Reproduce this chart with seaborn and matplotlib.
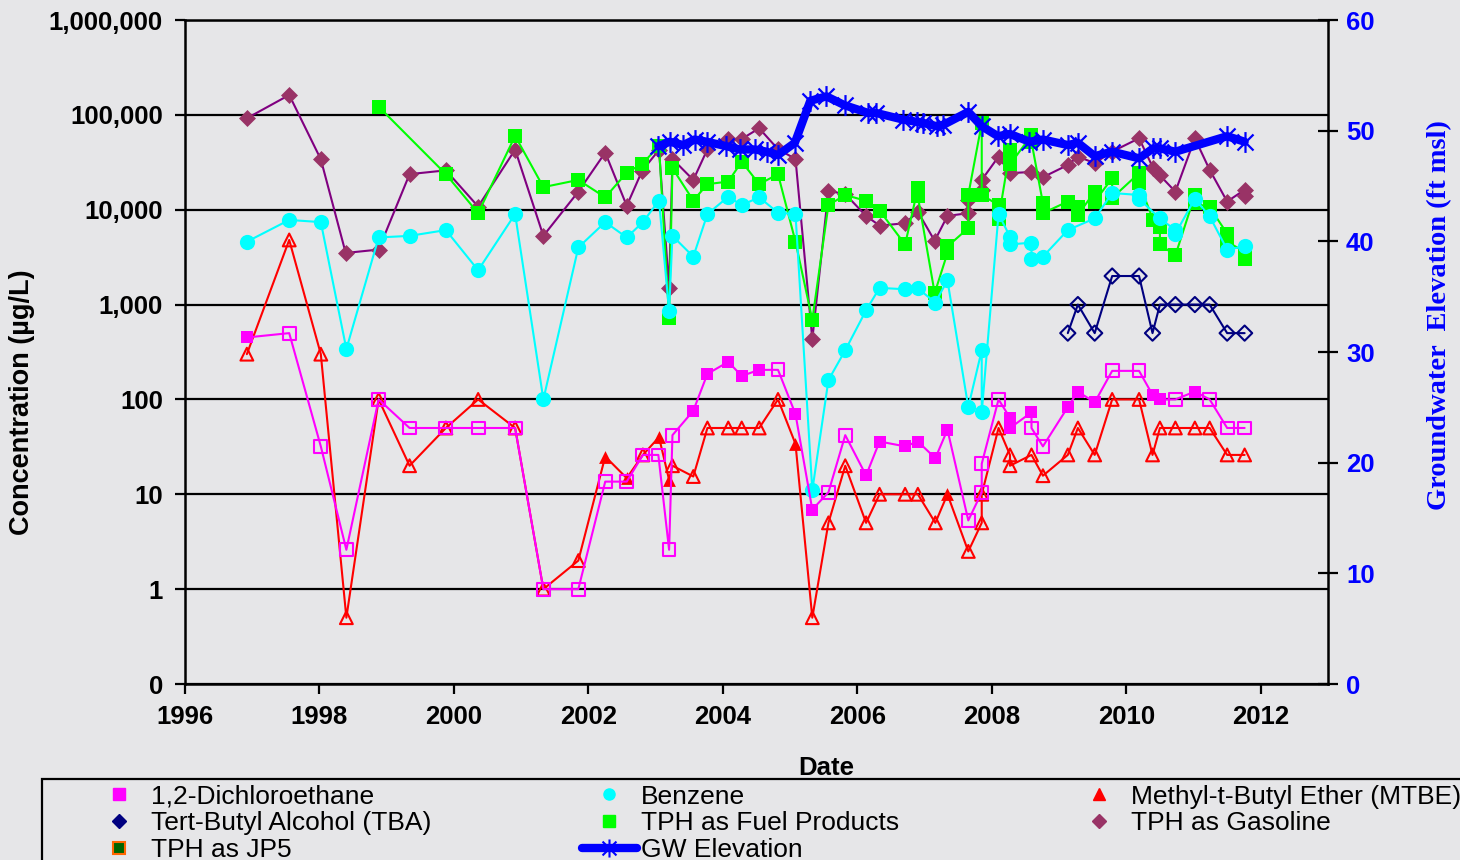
import numpy as np
import matplotlib
matplotlib.use("Agg")
import matplotlib.pyplot as plt
import seaborn as sns
from matplotlib.lines import Line2D
from matplotlib.path import Path
from matplotlib.patches import Rectangle
from matplotlib.ticker import NullLocator

# ---- data (decimal years, ug/L; det = 1 filled marker, 0 open) ----
dca_x = [1996.92, 1997.55, 1998.02, 1998.40, 1998.88, 1999.34, 1999.88, 2000.36, 2000.91, 2001.33,
         2001.85, 2002.25, 2002.57, 2002.81, 2003.04, 2003.20, 2003.25, 2003.56, 2003.77, 2004.08,
         2004.28, 2004.54, 2004.82, 2005.08, 2005.33, 2005.57, 2005.82, 2006.13, 2006.33, 2006.71,
         2006.90, 2007.16, 2007.34, 2007.65, 2007.85, 2007.85, 2008.10, 2008.27, 2008.27, 2008.59,
         2008.59, 2008.76, 2009.13, 2009.28, 2009.53, 2009.79, 2010.19, 2010.39, 2010.50, 2010.73,
         2011.02, 2011.24, 2011.50, 2011.76]
dca_y = [450, 500, 32, 2.6, 100, 50, 50, 50, 50, 1,
         1, 13.6, 13.6, 26, 26, 2.6, 42, 76, 186, 249,
         177, 205, 205, 70, 6.9, 10.5, 42, 15.8, 36, 32,
         36, 24, 48, 5.3, 10.5, 21, 100, 64, 50, 73,
         50, 32, 83, 121, 93, 200, 200, 112, 100, 100,
         121, 100, 50, 50]
dca_det = [1, 0, 0, 0, 0, 0, 0, 0, 0, 0,
           0, 0, 0, 0, 0, 0, 0, 1, 1, 1,
           1, 1, 0, 1, 1, 0, 0, 1, 1, 1,
           1, 1, 1, 0, 0, 0, 0, 1, 1, 1,
           0, 0, 1, 1, 1, 0, 0, 1, 1, 0,
           1, 0, 0, 0]

benz_x = [1996.92, 1997.55, 1998.02, 1998.40, 1998.88, 1999.34, 1999.88, 2000.36, 2000.91, 2001.33,
          2001.85, 2002.25, 2002.57, 2002.81, 2003.05, 2003.20, 2003.25, 2003.56, 2003.77, 2004.08,
          2004.28, 2004.54, 2004.82, 2005.08, 2005.33, 2005.57, 2005.82, 2006.13, 2006.33, 2006.71,
          2006.90, 2007.16, 2007.34, 2007.65, 2007.85, 2007.85, 2008.10, 2008.27, 2008.27, 2008.59,
          2008.59, 2008.76, 2009.13, 2009.53, 2009.79, 2010.19, 2010.19, 2010.50, 2010.73, 2010.73,
          2011.02, 2011.24, 2011.50, 2011.76]
benz_y = [4600, 7800, 7400, 340, 5100, 5300, 6100, 2300, 9000, 100,
          4000, 7400, 5100, 7400, 12500, 850, 5300, 3200, 9000, 13700,
          11200, 13500, 9300, 9000, 11, 160, 330, 870, 1500, 1450,
          1480, 1050, 1800, 83, 330, 73, 9000, 5200, 4300, 4500,
          3000, 3200, 6100, 8100, 15000, 14300, 13000, 8100, 6100, 5600,
          13000, 8500, 3800, 4100]

mtbe_x = [1996.92, 1997.55, 1998.02, 1998.40, 1998.88, 1999.34, 1999.88, 2000.36, 2000.91, 2001.33,
          2001.85, 2002.25, 2002.57, 2002.81, 2003.05, 2003.20, 2003.25, 2003.56, 2003.77, 2004.08,
          2004.28, 2004.54, 2004.82, 2005.08, 2005.33, 2005.57, 2005.82, 2006.13, 2006.33, 2006.71,
          2006.90, 2007.16, 2007.34, 2007.65, 2007.85, 2007.85, 2008.10, 2008.27, 2008.27, 2008.59,
          2008.76, 2009.13, 2009.28, 2009.53, 2009.79, 2010.19, 2010.39, 2010.50, 2010.73, 2011.02,
          2011.24, 2011.50, 2011.76]
mtbe_y = [300, 4800, 300, 0.5, 100, 20, 50, 100, 50, 1,
          2, 25, 14.8, 26, 40, 14.2, 20, 15.4, 50, 50,
          50, 50, 100, 34, 0.5, 5, 20, 5, 10, 10,
          10, 5, 10, 2.5, 5, 10, 50, 26, 20, 26,
          15.7, 26, 50, 26, 100, 100, 26, 50, 50, 50,
          50, 26, 26]
mtbe_det = [0, 0, 0, 0, 0, 0, 0, 0, 0, 0,
            0, 1, 1, 0, 1, 1, 0, 0, 0, 0,
            0, 0, 0, 1, 0, 0, 0, 0, 0, 0,
            0, 0, 1, 0, 0, 0, 0, 0, 0, 0,
            0, 0, 0, 0, 0, 0, 0, 0, 0, 0,
            0, 0, 0]

tba_x = [2009.13, 2009.28, 2009.53, 2009.79, 2010.19, 2010.39, 2010.50, 2010.73, 2011.02, 2011.24,
         2011.50, 2011.76]
tba_y = [500, 1000, 500, 2000, 2000, 500, 1000, 1000, 1000, 1000, 500, 500]

fuel_x = [1998.88, 1999.88, 2000.36, 2000.91, 2001.33, 2001.85, 2002.25, 2002.57, 2002.80, 2003.05,
          2003.20, 2003.25, 2003.56, 2003.77, 2004.08, 2004.28, 2004.54, 2004.82, 2005.08, 2005.33,
          2005.57, 2005.82, 2006.13, 2006.33, 2006.71, 2006.90, 2006.90, 2007.15, 2007.34, 2007.34,
          2007.65, 2007.65, 2007.85, 2007.85, 2008.10, 2008.10, 2008.27, 2008.27, 2008.59, 2008.59,
          2008.76, 2008.76, 2009.13, 2009.28, 2009.28, 2009.53, 2009.53, 2009.79, 2009.79, 2010.19,
          2010.19, 2010.40, 2010.50, 2010.50, 2010.73, 2011.02, 2011.02, 2011.24, 2011.50, 2011.50,
          2011.76, 2011.76]
fuel_y = [122000, 23700, 9200, 60000, 17300, 20600, 13500, 24600, 30400, 47000,
          730, 27400, 12500, 18600, 19800, 32100, 18600, 23700, 4600, 690,
          11200, 14300, 12400, 9800, 4300, 16800, 13800, 1320, 3500, 4100,
          6400, 14300, 81500, 14300, 11200, 8000, 42700, 30000, 61000, 52000,
          11700, 9200, 12200, 10800, 8800, 15500, 12200, 21500, 13300, 24300,
          19000, 7800, 6600, 4300, 3300, 14300, 11700, 10600, 5600, 4600,
          3600, 3000]

gas_x = [1996.92, 1997.55, 1998.02, 1998.39, 1998.88, 1999.34, 1999.88, 2000.36, 2000.91, 2001.33,
         2001.85, 2002.25, 2002.57, 2002.80, 2003.05, 2003.20, 2003.25, 2003.56, 2003.77, 2004.08,
         2004.28, 2004.54, 2004.82, 2005.08, 2005.33, 2005.57, 2005.82, 2006.13, 2006.33, 2006.71,
         2006.90, 2007.15, 2007.34, 2007.65, 2007.65, 2007.85, 2007.85, 2008.10, 2008.27, 2008.59,
         2008.76, 2009.13, 2009.28, 2009.53, 2009.79, 2010.19, 2010.40, 2010.50, 2010.73, 2011.02,
         2011.24, 2011.50, 2011.76, 2011.76]
gas_y = [92000, 162000, 34000, 3500, 3800, 23700, 26000, 10800, 43000, 5300,
         15500, 40000, 11000, 25800, 42700, 1500, 34300, 20600, 43400, 55700,
         55700, 72200, 43400, 34300, 430, 15800, 14600, 8600, 6800, 7200,
         9500, 4700, 8600, 9200, 12700, 16200, 20600, 36300, 24300, 25000,
         22000, 29600, 36300, 31000, 41000, 56600, 27400, 23000, 15500, 56600,
         26300, 12200, 16200, 14000]

# groundwater elevation, ft msl (right axis)
gw_x = [2003.04, 2003.21, 2003.41, 2003.58, 2003.76, 2004.05, 2004.25, 2004.48, 2004.65, 2004.82,
        2005.07, 2005.30, 2005.54, 2005.81, 2006.16, 2006.28, 2006.68, 2006.88, 2006.98, 2007.18,
        2007.27, 2007.65, 2007.85, 2008.09, 2008.27, 2008.56, 2008.76, 2009.13, 2009.28, 2009.53,
        2009.79, 2010.19, 2010.40, 2010.50, 2010.73, 2011.50, 2011.76]
gw_y = [48.6, 49.0, 48.7, 49.2, 49.0, 48.6, 48.3, 48.3, 48.1, 47.8,
        48.9, 52.7, 53.1, 52.3, 51.6, 51.6, 51.0, 50.8, 50.7, 50.4,
        50.5, 51.7, 50.4, 49.5, 49.7, 49.0, 49.2, 48.7, 48.9, 47.7,
        48.1, 47.5, 48.4, 48.4, 48.1, 49.5, 49.0]

year_ticks = [1996, 1998, 2000, 2002, 2004, 2006, 2008, 2010, 2012]
conc_ticks = [0.1, 1, 10, 100, 1000, 10000, 100000, 1000000]
conc_labels = ["0", "1", "10", "100", "1,000", "10,000", "100,000", "1,000,000"]
gw_ticks = [0, 10, 20, 30, 40, 50, 60]

sns.set_style("ticks")
plt.rcParams['font.family'] = ['Liberation Sans', 'DejaVu Sans']
plt.rcParams.update({'text.color': 'black', 'axes.labelcolor': 'black',
                     'xtick.color': 'black', 'ytick.color': 'black'})

bg = '#e6e6e8'
fig = plt.figure(figsize=(14.6, 8.6), dpi=100, facecolor=bg)
ax = fig.add_axes([185 / 1460, 176 / 860, 1143 / 1460, 664 / 860])
ax.set_facecolor(bg)

# Excel style asterisk: an X with a vertical bar
star = Path([(-1, -1), (1, 1), (-1, 1), (1, -1), (0, -1.3), (0, 1.3)],
            [Path.MOVETO, Path.LINETO, Path.MOVETO, Path.LINETO, Path.MOVETO, Path.LINETO])


def draw(x, y, det, line_col, mark_col, marker, size, z):
    sns.lineplot(x=x, y=y, ax=ax, color=line_col, lw=1.5, estimator=None, sort=False, zorder=z)
    xs = np.array(x)
    ys = np.array(y)
    d = np.array(det, dtype=bool)
    ax.scatter(xs[d], ys[d], marker=marker, s=size, color=mark_col, linewidths=0, zorder=z + 0.5)
    ax.scatter(xs[~d], ys[~d], marker=marker, s=size, facecolors='none', edgecolors=mark_col,
               linewidths=1.5, zorder=z + 0.5)


draw(gas_x, gas_y, [1] * len(gas_x), '#800080', '#993366', 'D', 75, 3)
draw(fuel_x, fuel_y, [1] * len(fuel_x), '#00ff00', '#00ff00', 's', 110, 4)
draw(benz_x, benz_y, [1] * len(benz_x), '#00ffff', '#00ffff', 'o', 120, 5)
draw(tba_x, tba_y, [0] * len(tba_x), '#000080', '#000080', 'D', 60, 6)
draw(mtbe_x, mtbe_y, mtbe_det, '#ff0000', '#ff0000', '^', 85, 7)
draw(dca_x, dca_y, dca_det, '#ff00ff', '#ff00ff', 's', 85, 8)

ax.set_yscale('log')
ax.set_ylim(0.1, 1e6)
ax.set_xlim(1996, 2013)
ax.set_xlabel('')
ax.set_ylabel('')
ax.yaxis.set_minor_locator(NullLocator())
ax.set_yticks(conc_ticks, conc_labels, fontsize=18.5, fontweight='bold')
ax.set_xticks(year_ticks, [str(t) for t in year_ticks], fontsize=18.5, fontweight='bold')
ax.tick_params(axis='y', direction='out', length=7, width=1.6, pad=9, colors='black')
ax.tick_params(axis='x', direction='out', length=7, width=1.6, pad=8, colors='black')
ax.yaxis.grid(True, color='black', lw=1.6)
ax.xaxis.grid(False)
for side in ['left', 'bottom', 'top']:
    ax.spines[side].set_color('black')
    ax.spines[side].set_linewidth(1.8)
ax.spines['right'].set_visible(False)

ax2 = ax.twinx()
sns.lineplot(x=gw_x, y=gw_y, ax=ax2, color='#0000ff', lw=6, estimator=None, sort=False,
             marker=star, markersize=15, markeredgewidth=1.6, markeredgecolor='#0000ff', zorder=9)
ax2.set_ylim(0, 60)
ax2.set_ylabel('')
ax2.set_yticks(gw_ticks, [str(t) for t in gw_ticks], fontsize=18.5, fontweight='bold', color='#0000ff')
ax2.tick_params(axis='y', direction='inout', length=14, width=1.6, color='black', pad=6)
for side in ['left', 'bottom', 'top']:
    ax2.spines[side].set_visible(False)
ax2.spines['right'].set_color('black')
ax2.spines['right'].set_linewidth(1.8)

fig.text(22 / 1460, 1 - 402 / 860, 'Concentration (µg/L)', rotation=90, ha='center', va='center',
         fontsize=19.5, fontweight='bold', color='black')
fig.text(1440 / 1460, 1 - 315 / 860, 'Groundwater  Elevation (ft msl)', rotation=90, ha='center',
         va='center', fontsize=20.5, fontweight='bold', color='#0000ff', family='Liberation Serif')
fig.text(826 / 1460, 1 - 768 / 860, 'Date', ha='center', va='center', fontsize=18.5,
         fontweight='bold', color='black')

# legend: three columns, entries read row by row
h_dca = Line2D([], [], ls='none', marker='s', color='#ff00ff', markersize=8)
h_benz = Line2D([], [], ls='none', marker='o', color='#00ffff', markersize=8)
h_mtbe = Line2D([], [], ls='none', marker='^', color='#ff0000', markersize=8)
h_tba = Line2D([], [], ls='none', marker='D', color='#000080', markersize=7)
h_fuel = Line2D([], [], ls='none', marker='s', color='#00ff00', markersize=8)
h_gas = Line2D([], [], ls='none', marker='D', color='#993366', markersize=7)
h_jp5 = Line2D([], [], ls='none', marker='s', markerfacecolor='#006400', markeredgecolor='#ff6600',
               markeredgewidth=1.5, markersize=8)
h_gw = Line2D([], [], color='#0000ff', lw=6, marker=star, markersize=13, markeredgewidth=1.5)

columns = [
    ([h_dca, h_tba, h_jp5], ['1,2-Dichloroethane', 'Tert-Butyl Alcohol (TBA)', 'TPH as JP5'], 152),
    ([h_benz, h_fuel, h_gw], ['Benzene', 'TPH as Fuel Products', 'GW Elevation'], 642),
    ([h_mtbe, h_gas], ['Methyl-t-Butyl Ether (MTBE)', 'TPH as Gasoline'], 1132),
]
for handles, labels, text_x in columns:
    leg = fig.legend(handles, labels, loc='upper left',
                     bbox_to_anchor=((text_x - 71) / 1460, 1 - 774 / 860),
                     frameon=False, fontsize=19, handlelength=2.1, handletextpad=0.14, borderpad=0.4,
                     borderaxespad=0, labelspacing=0.1)
    for t in leg.get_texts():
        t.set_color('black')

fig.add_artist(Rectangle((42 / 1460, -0.05), 1.2, (860 - 779) / 860 + 0.05, transform=fig.transFigure,
                         fill=False, edgecolor='black', lw=1.6))

fig.savefig('out.png', dpi=100, facecolor=bg)
